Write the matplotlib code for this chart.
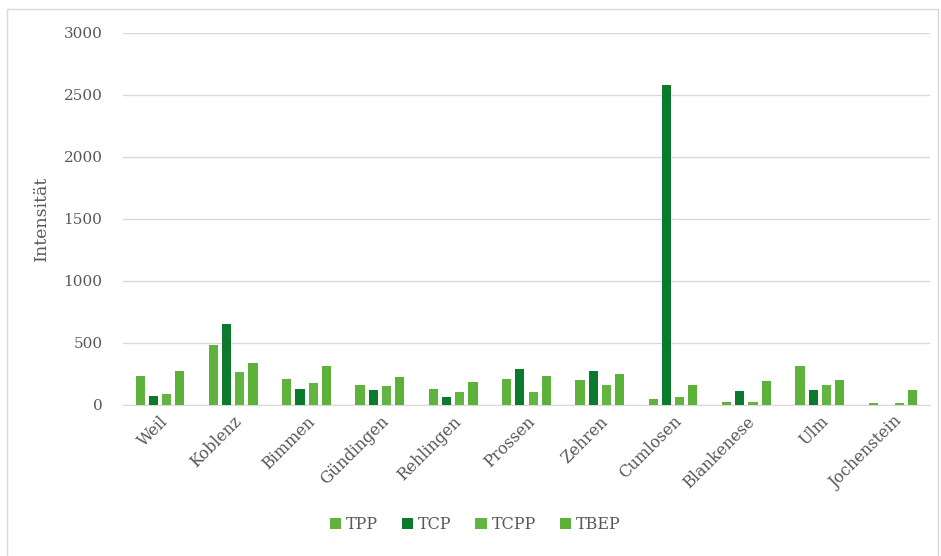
import matplotlib.pyplot as plt
import numpy as np
from matplotlib.patches import Rectangle

sites = ["Weil", "Koblenz", "Bimmen", "Gündingen", "Rehlingen", "Prossen",
         "Zehren", "Cumlosen", "Blankenese", "Ulm", "Jochenstein"]
tpp = [230, 481, 211, 157, 127, 211, 200, 43, 24, 316, 14]
tcp = [68, 649, 127, 116, 62, 292, 273, 2580, 108, 116, 0]
tcpp = [84, 262, 178, 149, 105, 103, 159, 65, 24, 162, 14]
tbep = [273, 338, 313, 221, 181, 230, 251, 162, 189, 203, 119]

series = [("TPP", tpp, "#5fb33c"), ("TCP", tcp, "#0b7a2c"),
          ("TCPP", tcpp, "#62b540"), ("TBEP", tbep, "#5cb239")]

plt.rcParams["font.family"] = ["DejaVu Serif"]

fig = plt.figure(figsize=(9.41, 5.56), dpi=100)
ax = fig.add_axes([0.131, 0.272, 0.857, 0.669])

x = np.arange(len(sites))
step, width = 0.18, 0.125
for i, (name, vals, col) in enumerate(series):
    ax.bar(x + (i - 1.5) * step, vals, width=width, color=col, label=name,
           zorder=3)

ax.set_xlim(-0.5, len(sites) - 0.5)
ax.set_ylim(0, 3000)
ax.set_yticks(range(0, 3001, 500))
ax.yaxis.grid(True, color="#d9d9d9", linewidth=1)
ax.set_axisbelow(True)
for s in ["top", "right", "left"]:
    ax.spines[s].set_visible(False)
ax.spines["bottom"].set_color("#d9d9d9")
ax.tick_params(axis="y", length=0, colors="#595959", labelsize=11, pad=15)
ax.tick_params(axis="x", length=0, colors="#595959", labelsize=11.5, pad=6)
ax.set_xticks(x)
ax.set_xticklabels(sites, rotation=45, ha="right", rotation_mode="anchor")
ax.set_ylabel("Intensität", fontsize=12.5, color="#595959", labelpad=10)

fig.legend(loc="lower center", bbox_to_anchor=(0.505, 0.015), ncol=4,
           frameon=False, fontsize=11.5, handlelength=0.7, handleheight=0.7,
           handletextpad=0.3, columnspacing=1.5, labelcolor="#595959")

fig.add_artist(Rectangle((0.007, -0.01), 0.99, 0.994, transform=fig.transFigure,
                         fill=False, edgecolor="#d9d9d9", linewidth=1))

fig.savefig("out.png", dpi=100)
